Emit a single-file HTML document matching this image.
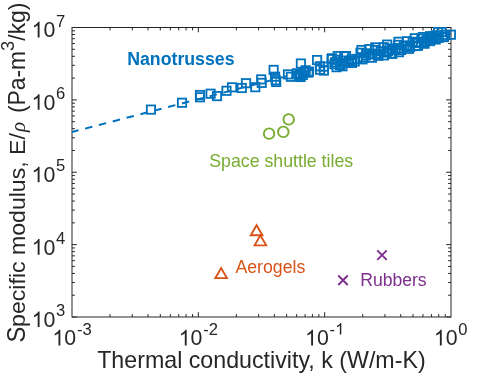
<!DOCTYPE html>
<html><head><meta charset="utf-8"><title>chart</title>
<style>html,body{margin:0;padding:0;background:#fff;}body{width:498px;height:374px;overflow:hidden;}svg{display:block;will-change:transform;}text{font-family:"Liberation Sans",sans-serif;}</style>
</head><body>
<svg width="498" height="374" viewBox="0 0 498 374">
<rect x="0" y="0" width="498" height="374" fill="#ffffff"/>
<g stroke="#262626" stroke-width="1" fill="none" shape-rendering="auto">
<path d="M110.03 317.00V314.10M110.03 27.50V30.40"/>
<path d="M132.28 317.00V314.10M132.28 27.50V30.40"/>
<path d="M148.06 317.00V314.10M148.06 27.50V30.40"/>
<path d="M160.30 317.00V314.10M160.30 27.50V30.40"/>
<path d="M170.31 317.00V314.10M170.31 27.50V30.40"/>
<path d="M178.76 317.00V314.10M178.76 27.50V30.40"/>
<path d="M186.09 317.00V314.10M186.09 27.50V30.40"/>
<path d="M192.55 317.00V314.10M192.55 27.50V30.40"/>
<path d="M198.33 317.00V312.20M198.33 27.50V32.30"/>
<path d="M236.36 317.00V314.10M236.36 27.50V30.40"/>
<path d="M258.61 317.00V314.10M258.61 27.50V30.40"/>
<path d="M274.39 317.00V314.10M274.39 27.50V30.40"/>
<path d="M286.64 317.00V314.10M286.64 27.50V30.40"/>
<path d="M296.64 317.00V314.10M296.64 27.50V30.40"/>
<path d="M305.10 317.00V314.10M305.10 27.50V30.40"/>
<path d="M312.42 317.00V314.10M312.42 27.50V30.40"/>
<path d="M318.89 317.00V314.10M318.89 27.50V30.40"/>
<path d="M324.67 317.00V312.20M324.67 27.50V32.30"/>
<path d="M362.70 317.00V314.10M362.70 27.50V30.40"/>
<path d="M384.94 317.00V314.10M384.94 27.50V30.40"/>
<path d="M400.73 317.00V314.10M400.73 27.50V30.40"/>
<path d="M412.97 317.00V314.10M412.97 27.50V30.40"/>
<path d="M422.97 317.00V314.10M422.97 27.50V30.40"/>
<path d="M431.43 317.00V314.10M431.43 27.50V30.40"/>
<path d="M438.76 317.00V314.10M438.76 27.50V30.40"/>
<path d="M445.22 317.00V314.10M445.22 27.50V30.40"/>
<path d="M72.00 317.00H76.80M451.00 317.00H446.20"/>
<path d="M72.00 295.21H74.90M451.00 295.21H448.10"/>
<path d="M72.00 282.47H74.90M451.00 282.47H448.10"/>
<path d="M72.00 273.43H74.90M451.00 273.43H448.10"/>
<path d="M72.00 266.41H74.90M451.00 266.41H448.10"/>
<path d="M72.00 260.68H74.90M451.00 260.68H448.10"/>
<path d="M72.00 255.84H74.90M451.00 255.84H448.10"/>
<path d="M72.00 251.64H74.90M451.00 251.64H448.10"/>
<path d="M72.00 247.94H74.90M451.00 247.94H448.10"/>
<path d="M72.00 244.62H76.80M451.00 244.62H446.20"/>
<path d="M72.00 222.84H74.90M451.00 222.84H448.10"/>
<path d="M72.00 210.09H74.90M451.00 210.09H448.10"/>
<path d="M72.00 201.05H74.90M451.00 201.05H448.10"/>
<path d="M72.00 194.04H74.90M451.00 194.04H448.10"/>
<path d="M72.00 188.31H74.90M451.00 188.31H448.10"/>
<path d="M72.00 183.46H74.90M451.00 183.46H448.10"/>
<path d="M72.00 179.26H74.90M451.00 179.26H448.10"/>
<path d="M72.00 175.56H74.90M451.00 175.56H448.10"/>
<path d="M72.00 172.25H76.80M451.00 172.25H446.20"/>
<path d="M72.00 150.46H74.90M451.00 150.46H448.10"/>
<path d="M72.00 137.72H74.90M451.00 137.72H448.10"/>
<path d="M72.00 128.68H74.90M451.00 128.68H448.10"/>
<path d="M72.00 121.66H74.90M451.00 121.66H448.10"/>
<path d="M72.00 115.93H74.90M451.00 115.93H448.10"/>
<path d="M72.00 111.09H74.90M451.00 111.09H448.10"/>
<path d="M72.00 106.89H74.90M451.00 106.89H448.10"/>
<path d="M72.00 103.19H74.90M451.00 103.19H448.10"/>
<path d="M72.00 99.88H76.80M451.00 99.88H446.20"/>
<path d="M72.00 78.09H74.90M451.00 78.09H448.10"/>
<path d="M72.00 65.34H74.90M451.00 65.34H448.10"/>
<path d="M72.00 56.30H74.90M451.00 56.30H448.10"/>
<path d="M72.00 49.29H74.90M451.00 49.29H448.10"/>
<path d="M72.00 43.56H74.90M451.00 43.56H448.10"/>
<path d="M72.00 38.71H74.90M451.00 38.71H448.10"/>
<path d="M72.00 34.51H74.90M451.00 34.51H448.10"/>
<path d="M72.00 30.81H74.90M451.00 30.81H448.10"/>
<path d="M72.00 27.50H76.80M451.00 27.50H446.20"/>
<rect x="72.00" y="27.50" width="379.00" height="289.50"/>
</g>
<clipPath id="c"><rect x="72.0" y="27.5" width="379.0" height="289.5"/></clipPath>
<path d="M72.00 132.00L451.00 33.50" stroke="#0072BD" stroke-width="2.0" stroke-dasharray="7.5 6.8" stroke-dashoffset="0.8" fill="none" clip-path="url(#c)"/>
<g stroke="#0072BD" stroke-width="1.80" fill="none">
<rect x="146.80" y="105.45" width="8.30" height="8.30"/>
<rect x="177.85" y="98.60" width="8.30" height="8.30"/>
<rect x="195.85" y="90.85" width="8.30" height="8.30"/>
<rect x="195.85" y="93.15" width="8.30" height="8.30"/>
<rect x="206.45" y="89.55" width="8.30" height="8.30"/>
<rect x="212.85" y="91.95" width="8.30" height="8.30"/>
<rect x="222.35" y="86.65" width="8.30" height="8.30"/>
<rect x="227.85" y="83.15" width="8.30" height="8.30"/>
<rect x="237.65" y="83.85" width="8.30" height="8.30"/>
<rect x="241.85" y="79.05" width="8.30" height="8.30"/>
<rect x="251.15" y="83.05" width="8.30" height="8.30"/>
<rect x="257.05" y="75.25" width="8.30" height="8.30"/>
<rect x="257.55" y="78.75" width="8.30" height="8.30"/>
<rect x="269.45" y="65.75" width="8.30" height="8.30"/>
<rect x="270.95" y="72.55" width="8.30" height="8.30"/>
<rect x="271.55" y="76.00" width="8.30" height="8.30"/>
<rect x="272.05" y="77.80" width="8.30" height="8.30"/>
<rect x="283.85" y="70.25" width="8.30" height="8.30"/>
<rect x="286.75" y="72.65" width="8.30" height="8.30"/>
<rect x="292.85" y="69.15" width="8.30" height="8.30"/>
<rect x="294.35" y="71.65" width="8.30" height="8.30"/>
<rect x="296.75" y="59.35" width="8.30" height="8.30"/>
<rect x="301.45" y="66.15" width="8.30" height="8.30"/>
<rect x="304.85" y="67.45" width="8.30" height="8.30"/>
<rect x="298.65" y="70.85" width="8.30" height="8.30"/>
<rect x="304.25" y="68.45" width="8.30" height="8.30"/>
<rect x="300.05" y="68.15" width="8.30" height="8.30"/>
<rect x="296.45" y="72.85" width="8.30" height="8.30"/>
<rect x="295.45" y="70.15" width="8.30" height="8.30"/>
<rect x="312.95" y="55.85" width="8.30" height="8.30"/>
<rect x="315.75" y="62.15" width="8.30" height="8.30"/>
<rect x="319.55" y="62.45" width="8.30" height="8.30"/>
<rect x="315.95" y="65.55" width="8.30" height="8.30"/>
<rect x="319.75" y="66.45" width="8.30" height="8.30"/>
<rect x="327.85" y="54.15" width="8.30" height="8.30"/>
<rect x="330.95" y="58.15" width="8.30" height="8.30"/>
<rect x="332.35" y="63.05" width="8.30" height="8.30"/>
<rect x="338.35" y="62.15" width="8.30" height="8.30"/>
<rect x="333.65" y="51.95" width="8.30" height="8.30"/>
<rect x="335.95" y="60.95" width="8.30" height="8.30"/>
<rect x="340.15" y="52.25" width="8.30" height="8.30"/>
<rect x="342.25" y="58.85" width="8.30" height="8.30"/>
<rect x="347.85" y="56.75" width="8.30" height="8.30"/>
<rect x="357.35" y="45.85" width="8.30" height="8.30"/>
<rect x="359.15" y="53.25" width="8.30" height="8.30"/>
<rect x="361.85" y="51.15" width="8.30" height="8.30"/>
<rect x="371.15" y="43.25" width="8.30" height="8.30"/>
<rect x="372.55" y="49.55" width="8.30" height="8.30"/>
<rect x="374.35" y="51.35" width="8.30" height="8.30"/>
<rect x="383.05" y="40.45" width="8.30" height="8.30"/>
<rect x="383.85" y="46.85" width="8.30" height="8.30"/>
<rect x="387.85" y="45.85" width="8.30" height="8.30"/>
<rect x="394.35" y="37.65" width="8.30" height="8.30"/>
<rect x="394.85" y="43.85" width="8.30" height="8.30"/>
<rect x="402.05" y="41.85" width="8.30" height="8.30"/>
<rect x="410.55" y="34.15" width="8.30" height="8.30"/>
<rect x="412.85" y="38.85" width="8.30" height="8.30"/>
<rect x="405.85" y="42.85" width="8.30" height="8.30"/>
<rect x="418.85" y="32.85" width="8.30" height="8.30"/>
<rect x="421.85" y="36.85" width="8.30" height="8.30"/>
<rect x="425.85" y="35.35" width="8.30" height="8.30"/>
<rect x="428.85" y="32.15" width="8.30" height="8.30"/>
<rect x="431.85" y="34.35" width="8.30" height="8.30"/>
<rect x="433.95" y="27.90" width="8.30" height="8.30"/>
<rect x="437.45" y="27.90" width="8.30" height="8.30"/>
<rect x="439.85" y="32.85" width="8.30" height="8.30"/>
<rect x="441.05" y="30.75" width="8.30" height="8.30"/>
<rect x="446.75" y="30.55" width="8.30" height="8.30"/>
<rect x="327.35" y="54.95" width="8.30" height="8.30"/>
<rect x="330.25" y="60.07" width="8.30" height="8.30"/>
<rect x="333.15" y="55.65" width="8.30" height="8.30"/>
<rect x="336.05" y="60.74" width="8.30" height="8.30"/>
<rect x="338.95" y="56.34" width="8.30" height="8.30"/>
<rect x="341.85" y="51.95" width="8.30" height="8.30"/>
<rect x="344.75" y="56.99" width="8.30" height="8.30"/>
<rect x="347.65" y="54.95" width="8.30" height="8.30"/>
<rect x="350.55" y="57.31" width="8.30" height="8.30"/>
<rect x="353.45" y="54.74" width="8.30" height="8.30"/>
<rect x="356.35" y="48.62" width="8.30" height="8.30"/>
<rect x="359.25" y="53.27" width="8.30" height="8.30"/>
<rect x="362.15" y="49.20" width="8.30" height="8.30"/>
<rect x="365.05" y="45.03" width="8.30" height="8.30"/>
<rect x="367.95" y="50.22" width="8.30" height="8.30"/>
<rect x="370.85" y="45.97" width="8.30" height="8.30"/>
<rect x="373.75" y="51.35" width="8.30" height="8.30"/>
<rect x="376.65" y="47.07" width="8.30" height="8.30"/>
<rect x="379.55" y="43.09" width="8.30" height="8.30"/>
<rect x="382.45" y="48.40" width="8.30" height="8.30"/>
<rect x="385.35" y="44.30" width="8.30" height="8.30"/>
<rect x="388.25" y="49.37" width="8.30" height="8.30"/>
<rect x="391.15" y="45.08" width="8.30" height="8.30"/>
<rect x="394.05" y="40.72" width="8.30" height="8.30"/>
<rect x="396.95" y="45.81" width="8.30" height="8.30"/>
<rect x="399.85" y="41.34" width="8.30" height="8.30"/>
<rect x="402.75" y="37.10" width="8.30" height="8.30"/>
<rect x="405.65" y="41.74" width="8.30" height="8.30"/>
<rect x="408.55" y="37.65" width="8.30" height="8.30"/>
<rect x="411.45" y="41.87" width="8.30" height="8.30"/>
<rect x="414.35" y="37.94" width="8.30" height="8.30"/>
<rect x="417.25" y="34.41" width="8.30" height="8.30"/>
<rect x="420.15" y="38.18" width="8.30" height="8.30"/>
<rect x="423.05" y="34.94" width="8.30" height="8.30"/>
<rect x="425.95" y="32.10" width="8.30" height="8.30"/>
<rect x="428.85" y="34.04" width="8.30" height="8.30"/>
<rect x="431.75" y="31.16" width="8.30" height="8.30"/>
<rect x="434.65" y="33.69" width="8.30" height="8.30"/>
<rect x="347.85" y="58.75" width="8.30" height="8.30"/>
<rect x="358.35" y="55.21" width="8.30" height="8.30"/>
<rect x="367.85" y="53.54" width="8.30" height="8.30"/>
<rect x="379.85" y="51.24" width="8.30" height="8.30"/>
<rect x="387.85" y="49.67" width="8.30" height="8.30"/>
<rect x="394.85" y="48.01" width="8.30" height="8.30"/>
<rect x="404.85" y="44.73" width="8.30" height="8.30"/>
<rect x="413.85" y="41.67" width="8.30" height="8.30"/>
<rect x="420.35" y="39.57" width="8.30" height="8.30"/>
<rect x="425.85" y="36.94" width="8.30" height="8.30"/>
<rect x="431.35" y="35.37" width="8.30" height="8.30"/>
<rect x="439.35" y="32.94" width="8.30" height="8.30"/>
</g>
<path d="M276.1 78.6V83.6" stroke="#0072BD" stroke-width="1.3" fill="none"/>
<g stroke="#77AC30" stroke-width="1.9" fill="none">
<circle cx="269.10" cy="133.65" r="5.25"/>
<circle cx="283.30" cy="131.90" r="5.25"/>
<circle cx="288.70" cy="119.40" r="5.25"/>
</g>
<g stroke="#D95319" stroke-width="1.9" fill="none" stroke-linejoin="miter">
<path d="M256.60 225.25L262.40 235.30L250.80 235.30Z"/>
<path d="M260.40 235.35L266.20 245.40L254.60 245.40Z"/>
<path d="M221.15 268.10L226.95 278.15L215.35 278.15Z"/>
</g>
<g stroke="#7E2F8E" stroke-width="1.9" fill="none">
<path d="M377.25 250.35L386.75 259.85M377.25 259.85L386.75 250.35"/>
<path d="M338.25 275.50L347.75 285.00M338.25 285.00L347.75 275.50"/>
</g>
<text transform="translate(127.20,64.70) scale(1.0235,1.0450)" font-size="17.33" fill="#0072BD" text-anchor="start" font-weight="bold">Nanotrusses</text>
<text transform="translate(209.30,166.70) scale(1.0240,1.0450)" font-size="17.33" fill="#77AC30" text-anchor="start">Space shuttle tiles</text>
<text transform="translate(235.40,272.70) scale(1.0230,1.0450)" font-size="17.33" fill="#D95319" text-anchor="start">Aerogels</text>
<text transform="translate(360.20,286.00) scale(1.0150,1.0450)" font-size="17.33" fill="#7E2F8E" text-anchor="start">Rubbers</text>
<path transform="translate(31.60,327.10) scale(0.01042,-0.01062)" d="M763 0H583V1147Q518 1085 412.5 1023Q307 961 223 930V1104Q374 1175 487 1276Q600 1377 647 1472H763Z" fill="#262626"/>
<text transform="translate(43.46,327.10) scale(1.0000,1.0450)" font-size="21.33" fill="#262626" text-anchor="start">0</text>
<text transform="translate(56.12,316.30) scale(1.0000,1.0000)" font-size="16.60" fill="#262626" text-anchor="start">3</text>
<path transform="translate(31.60,254.68) scale(0.01042,-0.01062)" d="M763 0H583V1147Q518 1085 412.5 1023Q307 961 223 930V1104Q374 1175 487 1276Q600 1377 647 1472H763Z" fill="#262626"/>
<text transform="translate(43.46,254.68) scale(1.0000,1.0450)" font-size="21.33" fill="#262626" text-anchor="start">0</text>
<text transform="translate(56.12,243.88) scale(1.0000,1.0000)" font-size="16.60" fill="#262626" text-anchor="start">4</text>
<path transform="translate(31.60,182.26) scale(0.01042,-0.01062)" d="M763 0H583V1147Q518 1085 412.5 1023Q307 961 223 930V1104Q374 1175 487 1276Q600 1377 647 1472H763Z" fill="#262626"/>
<text transform="translate(43.46,182.26) scale(1.0000,1.0450)" font-size="21.33" fill="#262626" text-anchor="start">0</text>
<text transform="translate(56.12,171.46) scale(1.0000,1.0000)" font-size="16.60" fill="#262626" text-anchor="start">5</text>
<path transform="translate(31.60,109.84) scale(0.01042,-0.01062)" d="M763 0H583V1147Q518 1085 412.5 1023Q307 961 223 930V1104Q374 1175 487 1276Q600 1377 647 1472H763Z" fill="#262626"/>
<text transform="translate(43.46,109.84) scale(1.0000,1.0450)" font-size="21.33" fill="#262626" text-anchor="start">0</text>
<text transform="translate(56.12,99.04) scale(1.0000,1.0000)" font-size="16.60" fill="#262626" text-anchor="start">6</text>
<path transform="translate(31.60,37.42) scale(0.01042,-0.01062)" d="M763 0H583V1147Q518 1085 412.5 1023Q307 961 223 930V1104Q374 1175 487 1276Q600 1377 647 1472H763Z" fill="#262626"/>
<text transform="translate(43.46,37.42) scale(1.0000,1.0450)" font-size="21.33" fill="#262626" text-anchor="start">0</text>
<text transform="translate(56.12,26.62) scale(1.0000,1.0000)" font-size="16.60" fill="#262626" text-anchor="start">7</text>
<path transform="translate(52.40,345.40) scale(0.01042,-0.01062)" d="M763 0H583V1147Q518 1085 412.5 1023Q307 961 223 930V1104Q374 1175 487 1276Q600 1377 647 1472H763Z" fill="#262626"/>
<text transform="translate(64.26,345.40) scale(1.0000,1.0450)" font-size="21.33" fill="#262626" text-anchor="start">0</text>
<text transform="translate(76.92,334.60) scale(1.0000,1.0000)" font-size="16.60" fill="#262626" text-anchor="start">-</text>
<text transform="translate(82.45,334.60) scale(1.0000,1.0000)" font-size="16.60" fill="#262626" text-anchor="start">3</text>
<path transform="translate(178.73,345.40) scale(0.01042,-0.01062)" d="M763 0H583V1147Q518 1085 412.5 1023Q307 961 223 930V1104Q374 1175 487 1276Q600 1377 647 1472H763Z" fill="#262626"/>
<text transform="translate(190.59,345.40) scale(1.0000,1.0450)" font-size="21.33" fill="#262626" text-anchor="start">0</text>
<text transform="translate(203.25,334.60) scale(1.0000,1.0000)" font-size="16.60" fill="#262626" text-anchor="start">-</text>
<text transform="translate(208.78,334.60) scale(1.0000,1.0000)" font-size="16.60" fill="#262626" text-anchor="start">2</text>
<path transform="translate(305.07,345.40) scale(0.01042,-0.01062)" d="M763 0H583V1147Q518 1085 412.5 1023Q307 961 223 930V1104Q374 1175 487 1276Q600 1377 647 1472H763Z" fill="#262626"/>
<text transform="translate(316.93,345.40) scale(1.0000,1.0450)" font-size="21.33" fill="#262626" text-anchor="start">0</text>
<text transform="translate(329.59,334.60) scale(1.0000,1.0000)" font-size="16.60" fill="#262626" text-anchor="start">-</text>
<path transform="translate(335.11,334.60) scale(0.00811,-0.00791)" d="M763 0H583V1147Q518 1085 412.5 1023Q307 961 223 930V1104Q374 1175 487 1276Q600 1377 647 1472H763Z" fill="#262626"/>
<path transform="translate(433.80,345.40) scale(0.01042,-0.01062)" d="M763 0H583V1147Q518 1085 412.5 1023Q307 961 223 930V1104Q374 1175 487 1276Q600 1377 647 1472H763Z" fill="#262626"/>
<text transform="translate(445.66,345.40) scale(1.0000,1.0450)" font-size="21.33" fill="#262626" text-anchor="start">0</text>
<text transform="translate(458.32,334.60) scale(1.0000,1.0000)" font-size="16.60" fill="#262626" text-anchor="start">0</text>
<text transform="translate(261.40,368.40) scale(1.0055,0.9950)" font-size="23.10" fill="#262626" text-anchor="middle">Thermal conductivity, k (W/m-K)</text>
<text transform="translate(25.20,342.60) rotate(-90) scale(1.0300,1.0900)" font-size="23.10" fill="#262626" text-anchor="start">S</text>
<text transform="translate(25.20,326.89) rotate(-90) scale(1.0000,0.9950)" font-size="23.10" fill="#262626" text-anchor="start">pecific modulus, E/</text>
<text transform="translate(25.20,132.00) rotate(-90) scale(1.0000,1.0000)" font-size="21.00" fill="#262626" text-anchor="start" font-style="italic" style="font-family:'Liberation Serif',serif">ρ</text>
<text transform="translate(25.20,2.60) rotate(-90) scale(0.9900,0.9950)" font-size="23.10" fill="#262626" text-anchor="end">(Pa-m<tspan font-size="18.5" dy="-11.3">3</tspan><tspan dy="11.3">/kg)</tspan></text>
</svg>
</body></html>
